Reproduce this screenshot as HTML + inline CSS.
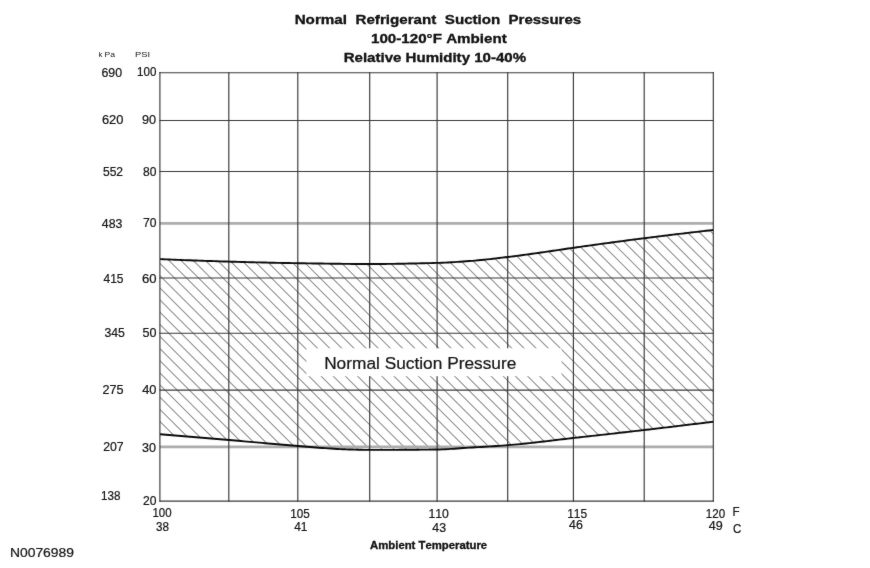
<!DOCTYPE html>
<html>
<head>
<meta charset="utf-8">
<style>
html,body{margin:0;padding:0;background:#fff;}
body{width:870px;height:568px;overflow:hidden;font-family:"Liberation Sans",sans-serif;position:relative;}
svg{display:block;position:absolute;left:0;top:0;}
text{font-family:"Liberation Sans",sans-serif;fill:#141414;font-kerning:none;stroke:#141414;stroke-width:0.22px;}
.b{font-weight:bold;stroke:#000;stroke-width:0.3px;}
</style>
</head>
<body>
<svg width="870" height="568" viewBox="0 0 870 568">
<defs>
<filter id="soft" x="0" y="0" width="100%" height="100%" color-interpolation-filters="sRGB"><feConvolveMatrix order="3" kernelMatrix="0.02 0.04 0.02 0.04 0.76 0.04 0.02 0.04 0.02" divisor="1" edgeMode="duplicate" preserveAlpha="false"/></filter>
<clipPath id="band"><path d="M160.1,259.10 L163.1,259.23 L166.1,259.36 L169.1,259.48 L172.1,259.61 L175.1,259.73 L178.1,259.85 L181.1,259.97 L184.1,260.09 L187.1,260.20 L190.1,260.32 L193.1,260.43 L196.1,260.54 L199.1,260.65 L202.1,260.75 L205.1,260.86 L208.1,260.96 L211.1,261.06 L214.1,261.16 L217.1,261.25 L220.1,261.35 L223.1,261.44 L226.1,261.53 L229.1,261.61 L232.1,261.70 L235.1,261.78 L238.1,261.86 L241.1,261.95 L244.1,262.03 L247.1,262.11 L250.1,262.19 L253.1,262.26 L256.1,262.34 L259.1,262.41 L262.1,262.49 L265.1,262.56 L268.1,262.63 L271.1,262.70 L274.1,262.76 L277.1,262.83 L280.1,262.89 L283.1,262.95 L286.1,263.00 L289.1,263.06 L292.1,263.11 L295.1,263.16 L298.1,263.20 L301.1,263.25 L304.1,263.30 L307.1,263.34 L310.1,263.39 L313.1,263.44 L316.1,263.48 L319.1,263.53 L322.1,263.57 L325.1,263.62 L328.1,263.66 L331.1,263.70 L334.1,263.74 L337.1,263.78 L340.1,263.81 L343.1,263.84 L346.1,263.87 L349.1,263.90 L352.1,263.93 L355.1,263.95 L358.1,263.97 L361.1,263.98 L364.1,263.99 L367.1,264.00 L370.1,264.00 L373.1,264.00 L376.1,263.99 L379.1,263.97 L382.1,263.95 L385.1,263.93 L388.1,263.90 L391.1,263.87 L394.1,263.83 L397.1,263.78 L400.1,263.74 L403.1,263.69 L406.1,263.63 L409.1,263.57 L412.1,263.51 L415.1,263.45 L418.1,263.38 L421.1,263.31 L424.1,263.24 L427.1,263.16 L430.1,263.08 L433.1,263.01 L436.1,262.92 L439.1,262.84 L442.1,262.73 L445.1,262.60 L448.1,262.45 L451.1,262.29 L454.1,262.11 L457.1,261.92 L460.1,261.71 L463.1,261.50 L466.1,261.29 L469.1,261.07 L472.1,260.84 L475.1,260.59 L478.1,260.32 L481.1,260.03 L484.1,259.72 L487.1,259.40 L490.1,259.07 L493.1,258.73 L496.1,258.38 L499.1,258.02 L502.1,257.67 L505.1,257.31 L508.1,256.95 L511.1,256.59 L514.1,256.21 L517.1,255.83 L520.1,255.44 L523.1,255.04 L526.1,254.63 L529.1,254.22 L532.1,253.80 L535.1,253.38 L538.1,252.97 L541.1,252.55 L544.1,252.12 L547.1,251.68 L550.1,251.24 L553.1,250.80 L556.1,250.35 L559.1,249.90 L562.1,249.45 L565.1,249.00 L568.1,248.56 L571.1,248.13 L574.1,247.70 L577.1,247.28 L580.1,246.85 L583.1,246.43 L586.1,246.01 L589.1,245.59 L592.1,245.17 L595.1,244.76 L598.1,244.34 L601.1,243.93 L604.1,243.52 L607.1,243.11 L610.1,242.70 L613.1,242.29 L616.1,241.89 L619.1,241.48 L622.1,241.08 L625.1,240.69 L628.1,240.29 L631.1,239.90 L634.1,239.51 L637.1,239.12 L640.1,238.73 L643.1,238.35 L646.1,237.97 L649.1,237.60 L652.1,237.22 L655.1,236.85 L658.1,236.47 L661.1,236.10 L664.1,235.74 L667.1,235.37 L670.1,235.01 L673.1,234.64 L676.1,234.29 L679.1,233.93 L682.1,233.57 L685.1,233.22 L688.1,232.87 L691.1,232.52 L694.1,232.17 L697.1,231.83 L700.1,231.48 L703.1,231.14 L706.1,230.80 L709.1,230.47 L712.1,230.13 L713.3,230.00 L713.3,421.70 L712.1,421.85 L709.1,422.22 L706.1,422.59 L703.1,422.96 L700.1,423.33 L697.1,423.69 L694.1,424.06 L691.1,424.43 L688.1,424.79 L685.1,425.15 L682.1,425.52 L679.1,425.88 L676.1,426.24 L673.1,426.60 L670.1,426.96 L667.1,427.32 L664.1,427.67 L661.1,428.03 L658.1,428.38 L655.1,428.74 L652.1,429.09 L649.1,429.44 L646.1,429.79 L643.1,430.14 L640.1,430.49 L637.1,430.83 L634.1,431.18 L631.1,431.52 L628.1,431.87 L625.1,432.21 L622.1,432.55 L619.1,432.89 L616.1,433.23 L613.1,433.57 L610.1,433.91 L607.1,434.24 L604.1,434.58 L601.1,434.92 L598.1,435.25 L595.1,435.59 L592.1,435.92 L589.1,436.25 L586.1,436.59 L583.1,436.92 L580.1,437.26 L577.1,437.59 L574.1,437.92 L571.1,438.26 L568.1,438.60 L565.1,438.95 L562.1,439.30 L559.1,439.66 L556.1,440.01 L553.1,440.37 L550.1,440.73 L547.1,441.09 L544.1,441.45 L541.1,441.80 L538.1,442.15 L535.1,442.50 L532.1,442.83 L529.1,443.16 L526.1,443.48 L523.1,443.80 L520.1,444.10 L517.1,444.39 L514.1,444.66 L511.1,444.92 L508.1,445.17 L505.1,445.40 L502.1,445.62 L499.1,445.83 L496.1,446.03 L493.1,446.22 L490.1,446.41 L487.1,446.59 L484.1,446.77 L481.1,446.95 L478.1,447.12 L475.1,447.30 L472.1,447.47 L469.1,447.66 L466.1,447.85 L463.1,448.06 L460.1,448.28 L457.1,448.50 L454.1,448.71 L451.1,448.91 L448.1,449.09 L445.1,449.25 L442.1,449.37 L439.1,449.46 L436.1,449.51 L433.1,449.55 L430.1,449.58 L427.1,449.61 L424.1,449.64 L421.1,449.67 L418.1,449.69 L415.1,449.72 L412.1,449.74 L409.1,449.76 L406.1,449.78 L403.1,449.80 L400.1,449.82 L397.1,449.83 L394.1,449.85 L391.1,449.86 L388.1,449.87 L385.1,449.88 L382.1,449.89 L379.1,449.89 L376.1,449.90 L373.1,449.90 L370.1,449.90 L367.1,449.89 L364.1,449.85 L361.1,449.80 L358.1,449.72 L355.1,449.64 L352.1,449.54 L349.1,449.44 L346.1,449.34 L343.1,449.23 L340.1,449.09 L337.1,448.94 L334.1,448.76 L331.1,448.57 L328.1,448.37 L325.1,448.16 L322.1,447.95 L319.1,447.74 L316.1,447.52 L313.1,447.28 L310.1,447.04 L307.1,446.79 L304.1,446.53 L301.1,446.28 L298.1,446.03 L295.1,445.77 L292.1,445.52 L289.1,445.27 L286.1,445.01 L283.1,444.75 L280.1,444.49 L277.1,444.23 L274.1,443.97 L271.1,443.70 L268.1,443.44 L265.1,443.18 L262.1,442.91 L259.1,442.65 L256.1,442.38 L253.1,442.12 L250.1,441.85 L247.1,441.59 L244.1,441.33 L241.1,441.07 L238.1,440.81 L235.1,440.55 L232.1,440.29 L229.1,440.03 L226.1,439.78 L223.1,439.53 L220.1,439.27 L217.1,439.02 L214.1,438.77 L211.1,438.51 L208.1,438.26 L205.1,438.01 L202.1,437.76 L199.1,437.51 L196.1,437.26 L193.1,437.01 L190.1,436.76 L187.1,436.51 L184.1,436.27 L181.1,436.02 L178.1,435.77 L175.1,435.52 L172.1,435.28 L169.1,435.03 L166.1,434.79 L163.1,434.54 L160.1,434.30 Z"/></clipPath>
</defs>
<g id="all" filter="url(#soft)">
<rect width="870" height="568" fill="#fff"/>
<g clip-path="url(#band)"><path d="M-112.4,222 L123.6,458 M-100.3,222 L135.7,458 M-88.1,222 L147.9,458 M-76.0,222 L160.0,458 M-63.8,222 L172.2,458 M-51.7,222 L184.3,458 M-39.5,222 L196.5,458 M-27.4,222 L208.6,458 M-15.2,222 L220.8,458 M-3.1,222 L232.9,458 M9.1,222 L245.1,458 M21.2,222 L257.2,458 M33.3,222 L269.3,458 M45.5,222 L281.5,458 M57.6,222 L293.6,458 M69.8,222 L305.8,458 M81.9,222 L317.9,458 M94.1,222 L330.1,458 M106.2,222 L342.2,458 M118.4,222 L354.4,458 M130.5,222 L366.5,458 M142.6,222 L378.6,458 M154.8,222 L390.8,458 M166.9,222 L402.9,458 M179.1,222 L415.1,458 M191.2,222 L427.2,458 M203.4,222 L439.4,458 M215.5,222 L451.5,458 M227.7,222 L463.7,458 M239.8,222 L475.8,458 M251.9,222 L487.9,458 M264.1,222 L500.1,458 M276.2,222 L512.2,458 M288.4,222 L524.4,458 M300.5,222 L536.5,458 M312.7,222 L548.7,458 M324.8,222 L560.8,458 M337.0,222 L573.0,458 M349.1,222 L585.1,458 M361.3,222 L597.3,458 M373.4,222 L609.4,458 M385.5,222 L621.5,458 M397.7,222 L633.7,458 M409.8,222 L645.8,458 M422.0,222 L658.0,458 M434.1,222 L670.1,458 M446.3,222 L682.3,458 M458.4,222 L694.4,458 M470.6,222 L706.6,458 M482.7,222 L718.7,458 M494.8,222 L730.8,458 M507.0,222 L743.0,458 M519.1,222 L755.1,458 M531.3,222 L767.3,458 M543.4,222 L779.4,458 M555.6,222 L791.6,458 M567.7,222 L803.7,458 M579.9,222 L815.9,458 M592.0,222 L828.0,458 M604.2,222 L840.2,458 M616.3,222 L852.3,458 M628.4,222 L864.4,458 M640.6,222 L876.6,458 M652.7,222 L888.7,458 M664.9,222 L900.9,458 M677.0,222 L913.0,458 M689.2,222 L925.2,458 M701.3,222 L937.3,458 M713.5,222 L949.5,458 M725.6,222 L961.6,458" stroke="#8e8e8e" stroke-width="1.05" fill="none"/></g>
<g stroke="#adadad" stroke-width="2.6" fill="none"><line x1="159.9" y1="223.35" x2="713.3" y2="223.35"/><line x1="159.9" y1="446.85" x2="713.3" y2="446.85"/></g>
<g stroke="#383838" stroke-width="1.15" fill="none"><line x1="159.33" y1="72.7" x2="713.88" y2="72.7"/><line x1="159.33" y1="120.5" x2="713.88" y2="120.5"/><line x1="159.33" y1="171.5" x2="713.88" y2="171.5"/><line x1="159.33" y1="278" x2="713.88" y2="278"/><line x1="159.33" y1="333.2" x2="713.88" y2="333.2"/><line x1="159.33" y1="390.1" x2="713.88" y2="390.1"/><line x1="159.33" y1="501.1" x2="713.88" y2="501.1"/><line x1="159.9" y1="72.12" x2="159.9" y2="501.68"/><line x1="228.8" y1="72.12" x2="228.8" y2="501.68"/><line x1="297.8" y1="72.12" x2="297.8" y2="501.68"/><line x1="369.7" y1="72.12" x2="369.7" y2="501.68"/><line x1="437.1" y1="72.12" x2="437.1" y2="501.68"/><line x1="507.7" y1="72.12" x2="507.7" y2="501.68"/><line x1="573.4" y1="72.12" x2="573.4" y2="501.68"/><line x1="644.2" y1="72.12" x2="644.2" y2="501.68"/><line x1="713.3" y1="72.12" x2="713.3" y2="501.68"/></g>
<rect x="306.4" y="348.3" width="255.1" height="27.9" fill="#fff"/>
<g stroke="#0a0a0a" stroke-width="1.9" fill="none"><path d="M160.1,259.10 L163.1,259.23 L166.1,259.36 L169.1,259.48 L172.1,259.61 L175.1,259.73 L178.1,259.85 L181.1,259.97 L184.1,260.09 L187.1,260.20 L190.1,260.32 L193.1,260.43 L196.1,260.54 L199.1,260.65 L202.1,260.75 L205.1,260.86 L208.1,260.96 L211.1,261.06 L214.1,261.16 L217.1,261.25 L220.1,261.35 L223.1,261.44 L226.1,261.53 L229.1,261.61 L232.1,261.70 L235.1,261.78 L238.1,261.86 L241.1,261.95 L244.1,262.03 L247.1,262.11 L250.1,262.19 L253.1,262.26 L256.1,262.34 L259.1,262.41 L262.1,262.49 L265.1,262.56 L268.1,262.63 L271.1,262.70 L274.1,262.76 L277.1,262.83 L280.1,262.89 L283.1,262.95 L286.1,263.00 L289.1,263.06 L292.1,263.11 L295.1,263.16 L298.1,263.20 L301.1,263.25 L304.1,263.30 L307.1,263.34 L310.1,263.39 L313.1,263.44 L316.1,263.48 L319.1,263.53 L322.1,263.57 L325.1,263.62 L328.1,263.66 L331.1,263.70 L334.1,263.74 L337.1,263.78 L340.1,263.81 L343.1,263.84 L346.1,263.87 L349.1,263.90 L352.1,263.93 L355.1,263.95 L358.1,263.97 L361.1,263.98 L364.1,263.99 L367.1,264.00 L370.1,264.00 L373.1,264.00 L376.1,263.99 L379.1,263.97 L382.1,263.95 L385.1,263.93 L388.1,263.90 L391.1,263.87 L394.1,263.83 L397.1,263.78 L400.1,263.74 L403.1,263.69 L406.1,263.63 L409.1,263.57 L412.1,263.51 L415.1,263.45 L418.1,263.38 L421.1,263.31 L424.1,263.24 L427.1,263.16 L430.1,263.08 L433.1,263.01 L436.1,262.92 L439.1,262.84 L442.1,262.73 L445.1,262.60 L448.1,262.45 L451.1,262.29 L454.1,262.11 L457.1,261.92 L460.1,261.71 L463.1,261.50 L466.1,261.29 L469.1,261.07 L472.1,260.84 L475.1,260.59 L478.1,260.32 L481.1,260.03 L484.1,259.72 L487.1,259.40 L490.1,259.07 L493.1,258.73 L496.1,258.38 L499.1,258.02 L502.1,257.67 L505.1,257.31 L508.1,256.95 L511.1,256.59 L514.1,256.21 L517.1,255.83 L520.1,255.44 L523.1,255.04 L526.1,254.63 L529.1,254.22 L532.1,253.80 L535.1,253.38 L538.1,252.97 L541.1,252.55 L544.1,252.12 L547.1,251.68 L550.1,251.24 L553.1,250.80 L556.1,250.35 L559.1,249.90 L562.1,249.45 L565.1,249.00 L568.1,248.56 L571.1,248.13 L574.1,247.70 L577.1,247.28 L580.1,246.85 L583.1,246.43 L586.1,246.01 L589.1,245.59 L592.1,245.17 L595.1,244.76 L598.1,244.34 L601.1,243.93 L604.1,243.52 L607.1,243.11 L610.1,242.70 L613.1,242.29 L616.1,241.89 L619.1,241.48 L622.1,241.08 L625.1,240.69 L628.1,240.29 L631.1,239.90 L634.1,239.51 L637.1,239.12 L640.1,238.73 L643.1,238.35 L646.1,237.97 L649.1,237.60 L652.1,237.22 L655.1,236.85 L658.1,236.47 L661.1,236.10 L664.1,235.74 L667.1,235.37 L670.1,235.01 L673.1,234.64 L676.1,234.29 L679.1,233.93 L682.1,233.57 L685.1,233.22 L688.1,232.87 L691.1,232.52 L694.1,232.17 L697.1,231.83 L700.1,231.48 L703.1,231.14 L706.1,230.80 L709.1,230.47 L712.1,230.13 L713.3,230.00"/><path d="M160.1,434.30 L163.1,434.54 L166.1,434.79 L169.1,435.03 L172.1,435.28 L175.1,435.52 L178.1,435.77 L181.1,436.02 L184.1,436.27 L187.1,436.51 L190.1,436.76 L193.1,437.01 L196.1,437.26 L199.1,437.51 L202.1,437.76 L205.1,438.01 L208.1,438.26 L211.1,438.51 L214.1,438.77 L217.1,439.02 L220.1,439.27 L223.1,439.53 L226.1,439.78 L229.1,440.03 L232.1,440.29 L235.1,440.55 L238.1,440.81 L241.1,441.07 L244.1,441.33 L247.1,441.59 L250.1,441.85 L253.1,442.12 L256.1,442.38 L259.1,442.65 L262.1,442.91 L265.1,443.18 L268.1,443.44 L271.1,443.70 L274.1,443.97 L277.1,444.23 L280.1,444.49 L283.1,444.75 L286.1,445.01 L289.1,445.27 L292.1,445.52 L295.1,445.77 L298.1,446.03 L301.1,446.28 L304.1,446.53 L307.1,446.79 L310.1,447.04 L313.1,447.28 L316.1,447.52 L319.1,447.74 L322.1,447.95 L325.1,448.16 L328.1,448.37 L331.1,448.57 L334.1,448.76 L337.1,448.94 L340.1,449.09 L343.1,449.23 L346.1,449.34 L349.1,449.44 L352.1,449.54 L355.1,449.64 L358.1,449.72 L361.1,449.80 L364.1,449.85 L367.1,449.89 L370.1,449.90 L373.1,449.90 L376.1,449.90 L379.1,449.89 L382.1,449.89 L385.1,449.88 L388.1,449.87 L391.1,449.86 L394.1,449.85 L397.1,449.83 L400.1,449.82 L403.1,449.80 L406.1,449.78 L409.1,449.76 L412.1,449.74 L415.1,449.72 L418.1,449.69 L421.1,449.67 L424.1,449.64 L427.1,449.61 L430.1,449.58 L433.1,449.55 L436.1,449.51 L439.1,449.46 L442.1,449.37 L445.1,449.25 L448.1,449.09 L451.1,448.91 L454.1,448.71 L457.1,448.50 L460.1,448.28 L463.1,448.06 L466.1,447.85 L469.1,447.66 L472.1,447.47 L475.1,447.30 L478.1,447.12 L481.1,446.95 L484.1,446.77 L487.1,446.59 L490.1,446.41 L493.1,446.22 L496.1,446.03 L499.1,445.83 L502.1,445.62 L505.1,445.40 L508.1,445.17 L511.1,444.92 L514.1,444.66 L517.1,444.39 L520.1,444.10 L523.1,443.80 L526.1,443.48 L529.1,443.16 L532.1,442.83 L535.1,442.50 L538.1,442.15 L541.1,441.80 L544.1,441.45 L547.1,441.09 L550.1,440.73 L553.1,440.37 L556.1,440.01 L559.1,439.66 L562.1,439.30 L565.1,438.95 L568.1,438.60 L571.1,438.26 L574.1,437.92 L577.1,437.59 L580.1,437.26 L583.1,436.92 L586.1,436.59 L589.1,436.25 L592.1,435.92 L595.1,435.59 L598.1,435.25 L601.1,434.92 L604.1,434.58 L607.1,434.24 L610.1,433.91 L613.1,433.57 L616.1,433.23 L619.1,432.89 L622.1,432.55 L625.1,432.21 L628.1,431.87 L631.1,431.52 L634.1,431.18 L637.1,430.83 L640.1,430.49 L643.1,430.14 L646.1,429.79 L649.1,429.44 L652.1,429.09 L655.1,428.74 L658.1,428.38 L661.1,428.03 L664.1,427.67 L667.1,427.32 L670.1,426.96 L673.1,426.60 L676.1,426.24 L679.1,425.88 L682.1,425.52 L685.1,425.15 L688.1,424.79 L691.1,424.43 L694.1,424.06 L697.1,423.69 L700.1,423.33 L703.1,422.96 L706.1,422.59 L709.1,422.22 L712.1,421.85 L713.3,421.70"/></g>
<text font-size="12.3" transform="translate(101.42,77.33) scale(1.0043,1)">690</text>
<text font-size="12.3" transform="translate(137.07,76.13) scale(0.9422,1)">100</text>
<text font-size="12.3" transform="translate(101.90,124.23) scale(1.0455,1)">620</text>
<text font-size="12.3" transform="translate(141.96,124.23) scale(1.0298,1)">90</text>
<text font-size="12.3" transform="translate(102.97,176.03) scale(0.9788,1)">552</text>
<text font-size="12.3" transform="translate(143.03,175.73) scale(0.9790,1)">80</text>
<text font-size="12.3" transform="translate(101.87,227.73) scale(1.0000,1)">483</text>
<text font-size="12.3" transform="translate(142.93,227.33) scale(0.9865,1)">70</text>
<text font-size="12.3" transform="translate(103.48,282.53) scale(0.9735,1)">415</text>
<text font-size="12.3" transform="translate(141.88,282.53) scale(1.0655,1)">60</text>
<text font-size="12.3" transform="translate(104.38,337.23) scale(0.9930,1)">345</text>
<text font-size="12.3" transform="translate(142.45,337.43) scale(1.0229,1)">50</text>
<text font-size="12.3" transform="translate(102.42,394.23) scale(1.0265,1)">275</text>
<text font-size="12.3" transform="translate(142.16,394.23) scale(1.0450,1)">40</text>
<text font-size="12.3" transform="translate(103.13,450.63) scale(0.9956,1)">207</text>
<text font-size="12.3" transform="translate(142.07,452.43) scale(1.0210,1)">30</text>
<text font-size="12.3" transform="translate(101.06,499.73) scale(0.9501,1)">138</text>
<text font-size="12.3" transform="translate(142.94,504.73) scale(0.9855,1)">20</text>
<text font-size="12.3" transform="translate(152.48,517.13) scale(0.9317,1)">100</text>
<text font-size="12.3" transform="translate(155.91,530.63) scale(0.9465,1)">38</text>
<text font-size="12.3" transform="translate(290.26,518.13) scale(0.9492,1)">105</text>
<text font-size="12.3" transform="translate(294.18,531.25) scale(0.9689,1)">41</text>
<text font-size="12.3" transform="translate(428.42,518.13) scale(0.9945,1)">110</text>
<text font-size="12.3" transform="translate(432.37,531.53) scale(1.0032,1)">43</text>
<text font-size="12.3" transform="translate(567.14,518.13) scale(0.9702,1)">115</text>
<text font-size="12.3" transform="translate(569.07,529.13) scale(1.0032,1)">46</text>
<text font-size="12.3" transform="translate(705.87,517.53) scale(0.9422,1)">120</text>
<text font-size="12.3" transform="translate(708.86,530.13) scale(1.0221,1)">49</text>
<text font-size="12.3" transform="translate(732.39,515.95) scale(0.9481,1)">F</text>
<text font-size="12.3" transform="translate(732.96,533.33) scale(0.9371,1)">C</text>
<text class="b" fill="#000" font-size="13.5" transform="translate(294.63,23.61) scale(1.1287,1)">Normal</text>
<text class="b" fill="#000" font-size="13.5" transform="translate(355.54,23.61) scale(1.1205,1)">Refrigerant</text>
<text class="b" fill="#000" font-size="13.5" transform="translate(444.81,23.61) scale(1.1207,1)">Suction</text>
<text class="b" fill="#000" font-size="13.5" transform="translate(508.54,23.61) scale(1.1137,1)">Pressures</text>
<text class="b" fill="#000" font-size="13.7" transform="translate(370.99,43.32) scale(1.1076,1)">100-120°F Ambient</text>
<text class="b" fill="#000" font-size="13.1" transform="translate(343.64,62.32) scale(1.1505,1)">Relative Humidity 10-40%</text>
<text class="b" fill="#000" font-size="10.9" transform="translate(370.07,549.49) scale(1.0401,1)">Ambient Temperature</text>
<text font-size="17" transform="translate(324.13,368.58) scale(1.0182,1)">Normal Suction Pressure</text>
<text font-size="13.5" transform="translate(9.91,557.12) scale(1.0304,1)">N0076989</text>
<text fill="#4a4a4a" font-size="8" transform="translate(98.52,56.85) scale(0.9791,1)" stroke="none" style="stroke:none">k</text>
<text fill="#4a4a4a" font-size="8" transform="translate(104.55,56.77) scale(1.0735,1)" style="stroke:none">Pa</text>
<text fill="#757575" font-size="7.8" transform="translate(134.88,56.77) scale(1.2040,1)" style="stroke:none">PSI</text>
</g>
</svg>
</body>
</html>
